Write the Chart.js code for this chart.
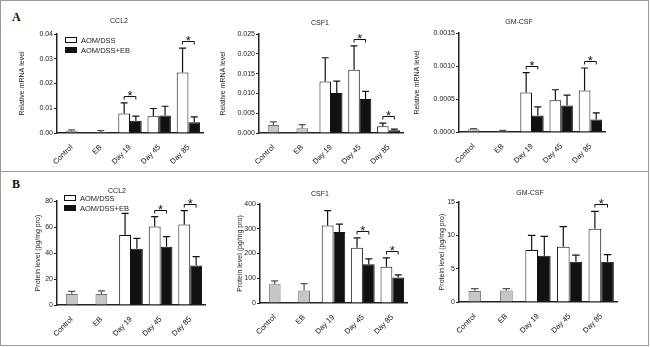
<!DOCTYPE html>
<html>
<head>
<meta charset="utf-8">
<script src="https://cdn.jsdelivr.net/npm/chart.js@4.4.0/dist/chart.umd.min.js"></script>
<style>
  body { margin: 0; background: #fff; font-family: "Liberation Sans", Arial, sans-serif; }
  #fig { position: relative; width: 650px; height: 347px; overflow: hidden; background: #fff; }
  .frame { position: absolute; left: 0; top: 0; width: 649px; height: 346px; box-sizing: border-box; border: 1px solid #9a9a9a; }
  .sep { position: absolute; left: 0; top: 171px; width: 649px; height: 1px; background: #9a9a9a; }
  .letter { position: absolute; font-family: "Liberation Serif", "DejaVu Serif", serif; font-weight: bold; font-size: 12px; color: #111; }
  .title { position: absolute; transform: translate(-50%, -50%); font-size: 7px; color: #222; white-space: nowrap; }
  .lbox { position: absolute; width: 12px; height: 6px; box-sizing: border-box; border: 1px solid #111; }
  .ltext { position: absolute; font-size: 7.5px; color: #222; white-space: nowrap; transform: translateY(-50%); }
  canvas { position: absolute; }
</style>
</head>
<body>
<div id="fig">
  <div class="frame"></div>
  <div class="sep"></div>
  <div class="letter" style="left:12px;top:10px;">A</div>
  <div class="letter" style="left:12px;top:177px;">B</div>
</div>
<script>
var categories = ["Control", "EB", "Day 19", "Day 45", "Day 85"];
var seriesNames = ["AOM/DSS", "AOM/DSS+EB"];

// A: relative mRNA level
var ccl2MrnaBase = [0.0008, 0.0004];
var ccl2MrnaBaseErr = [0.0005, 0.0006];
var ccl2MrnaAom = [0.0079, 0.0068, 0.0244];
var ccl2MrnaAomErr = [0.0043, 0.0031, 0.0099];
var ccl2MrnaEb = [0.0049, 0.0071, 0.0043];
var ccl2MrnaEbErr = [0.0019, 0.0037, 0.0022];
var ccl2MrnaSig = ["Day 19", "Day 85"];

var csf1MrnaBase = [0.0020, 0.0012];
var csf1MrnaBaseErr = [0.0008, 0.0009];
var csf1MrnaAom = [0.0130, 0.0160, 0.0017];
var csf1MrnaAomErr = [0.0060, 0.0060, 0.0008];
var csf1MrnaEb = [0.0101, 0.0086, 0.0007];
var csf1MrnaEbErr = [0.0030, 0.0019, 0.0003];
var csf1MrnaSig = ["Day 45", "Day 85"];

var gmcsfMrnaBase = [0.00004, 0.000015];
var gmcsfMrnaBaseErr = [0.00001, 0.00001];
var gmcsfMrnaAom = [0.00060, 0.00048, 0.00063];
var gmcsfMrnaAomErr = [0.00030, 0.00016, 0.00034];
var gmcsfMrnaEb = [0.00025, 0.00040, 0.00019];
var gmcsfMrnaEbErr = [0.00013, 0.00016, 0.00010];
var gmcsfMrnaSig = ["Day 19", "Day 85"];

// B: protein level (pg/mg pro)
var ccl2ProtBase = [8.5, 8.5];
var ccl2ProtBaseErr = [2.0, 2.3];
var ccl2ProtAom = [53.8, 60.3, 62.0];
var ccl2ProtAomErr = [16.7, 7.7, 10.6];
var ccl2ProtEb = [43.3, 44.9, 30.3];
var ccl2ProtEbErr = [8.0, 7.7, 6.9];
var ccl2ProtSig = ["Day 45", "Day 85"];

var csf1ProtBase = [75.7, 51];
var csf1ProtBaseErr = [13.5, 27];
var csf1ProtAom = [313.5, 223, 146];
var csf1ProtAomErr = [59.5, 40.5, 36.5];
var csf1ProtEb = [286.5, 156.8, 102.7];
var csf1ProtEbErr = [32.5, 21.6, 10.8];
var csf1ProtSig = ["Day 45", "Day 85"];

var gmcsfProtBase = [1.66, 1.71];
var gmcsfProtBaseErr = [0.35, 0.3];
var gmcsfProtAom = [7.8, 8.3, 11.0];
var gmcsfProtAomErr = [2.2, 3.0, 2.6];
var gmcsfProtEb = [6.95, 6.04, 6.04];
var gmcsfProtEbErr = [2.9, 1.0, 1.06];
var gmcsfProtSig = ["Day 85"];

var mrnaTitle = "Relative mRNA level";
var protTitle = "Protein level (pg/mg pro)";

var FONT = "'Liberation Sans', Arial, sans-serif";
Chart.defaults.font.family = FONT;
Chart.defaults.color = "#222";

var panels = [
  { title: "CCL2", yTitle: mrnaTitle, base: ccl2MrnaBase, baseErr: ccl2MrnaBaseErr, aom: ccl2MrnaAom, aomErr: ccl2MrnaAomErr, eb: ccl2MrnaEb, ebErr: ccl2MrnaEbErr, sig: ccl2MrnaSig,
    max: 0.04, step: 0.01, dec: 2, area: { l: 57, t: 34, r: 203, b: 133, yt: 22 }, head: { x: 119, y: 20 }, legend: { x: 65, y: 37 } },
  { title: "CSF1", yTitle: mrnaTitle, base: csf1MrnaBase, baseErr: csf1MrnaBaseErr, aom: csf1MrnaAom, aomErr: csf1MrnaAomErr, eb: csf1MrnaEb, ebErr: csf1MrnaEbErr, sig: csf1MrnaSig,
    max: 0.025, step: 0.005, dec: 3, area: { l: 259, t: 34, r: 403, b: 133, yt: 223 }, head: { x: 320, y: 22 } },
  { title: "GM-CSF", yTitle: mrnaTitle, base: gmcsfMrnaBase, baseErr: gmcsfMrnaBaseErr, aom: gmcsfMrnaAom, aomErr: gmcsfMrnaAomErr, eb: gmcsfMrnaEb, ebErr: gmcsfMrnaEbErr, sig: gmcsfMrnaSig,
    max: 0.0015, step: 0.0005, dec: 4, area: { l: 459, t: 33, r: 605, b: 132, yt: 417 }, head: { x: 519, y: 21 } },
  { title: "CCL2", yTitle: protTitle, base: ccl2ProtBase, baseErr: ccl2ProtBaseErr, aom: ccl2ProtAom, aomErr: ccl2ProtAomErr, eb: ccl2ProtEb, ebErr: ccl2ProtEbErr, sig: ccl2ProtSig,
    max: 80, step: 20, dec: 0, area: { l: 57, t: 201, r: 205, b: 305, yt: 38 }, head: { x: 117, y: 190 }, legend: { x: 64, y: 195 } },
  { title: "CSF1", yTitle: protTitle, base: csf1ProtBase, baseErr: csf1ProtBaseErr, aom: csf1ProtAom, aomErr: csf1ProtAomErr, eb: csf1ProtEb, ebErr: csf1ProtEbErr, sig: csf1ProtSig,
    max: 400, step: 100, dec: 0, area: { l: 260, t: 204, r: 407, b: 303, yt: 240 }, head: { x: 320, y: 193 } },
  { title: "GM-CSF", yTitle: protTitle, base: gmcsfProtBase, baseErr: gmcsfProtBaseErr, aom: gmcsfProtAom, aomErr: gmcsfProtAomErr, eb: gmcsfProtEb, ebErr: gmcsfProtEbErr, sig: gmcsfProtSig,
    max: 15, step: 5, dec: 0, area: { l: 459, t: 202, r: 617, b: 302, yt: 442 }, head: { x: 530, y: 192 } }
];

function spread(vals, offset) {
  var out = categories.map(function() { return null; });
  vals.forEach(function(v, i) { out[i + offset] = v; });
  return out;
}

// upper-only error bars with a cap
var errorBars = {
  id: "errorBars",
  afterDatasetsDraw: function(chart) {
    var ctx = chart.ctx, y = chart.scales.y;
    chart.data.datasets.forEach(function(ds, i) {
      var meta = chart.getDatasetMeta(i);
      meta.data.forEach(function(bar, j) {
        var v = ds.data[j], e = ds.errors[j];
        if (v == null || e == null) return;
        var top = y.getPixelForValue(v + e);
        var half = bar.width * 0.3;
        ctx.save();
        ctx.strokeStyle = ds.errColor;
        ctx.lineWidth = 1.2;
        ctx.beginPath();
        ctx.moveTo(bar.x, bar.y);
        ctx.lineTo(bar.x, top);
        ctx.moveTo(bar.x - half, top);
        ctx.lineTo(bar.x + half, top);
        ctx.stroke();
        ctx.restore();
      });
    });
  }
};

// significance brackets with a star
var sigMarks = {
  id: "sigMarks",
  afterDatasetsDraw: function(chart, args, opts) {
    var ctx = chart.ctx, y = chart.scales.y;
    var white = chart.getDatasetMeta(1), black = chart.getDatasetMeta(2);
    var dsW = chart.data.datasets[1], dsB = chart.data.datasets[2];
    (opts.labels || []).forEach(function(lab) {
      var j = categories.indexOf(lab);
      var topW = y.getPixelForValue(dsW.data[j] + dsW.errors[j]);
      var topB = y.getPixelForValue(dsB.data[j] + dsB.errors[j]);
      var ly = Math.round(Math.min(topW, topB) - 7) + 0.5;
      var x1 = white.data[j].x, x2 = black.data[j].x;
      ctx.save();
      ctx.strokeStyle = "#111";
      ctx.lineWidth = 1;
      ctx.beginPath();
      ctx.moveTo(x1, ly + 3);
      ctx.lineTo(x1, ly);
      ctx.lineTo(x2, ly);
      ctx.lineTo(x2, ly + 3);
      ctx.stroke();
      ctx.fillStyle = "#111";
      ctx.font = "13px " + FONT;
      ctx.textAlign = "center";
      ctx.textBaseline = "alphabetic";
      ctx.fillText("*", (x1 + x2) / 2, ly + 3);
      ctx.restore();
    });
  }
};

var fig = document.getElementById("fig");

function addDiv(cls, style, text) {
  var d = document.createElement("div");
  d.className = cls;
  d.setAttribute("style", style);
  if (text) d.textContent = text;
  fig.appendChild(d);
  return d;
}

panels.forEach(function(p) {
  var a = p.area;
  var padTop = 12, padRight = 4, xH = 32;
  var cl = Math.round(a.yt - 4.2);
  var ct = a.t - padTop;
  var yW = a.l - cl;
  var canvas = document.createElement("canvas");
  canvas.width = a.r - cl + padRight;
  canvas.height = a.b - ct + xH;
  canvas.style.left = cl + "px";
  canvas.style.top = ct + "px";
  fig.appendChild(canvas);

  addDiv("title", "left:" + p.head.x + "px;top:" + p.head.y + "px;", p.title);

  new Chart(canvas, {
    type: "bar",
    data: {
      labels: categories,
      datasets: [
        { label: "baseline", data: spread(p.base, 0), errors: spread(p.baseErr, 0), errColor: "#555",
          backgroundColor: "#c6c6c6", borderColor: "#707070", borderWidth: 1,
          grouped: false, categoryPercentage: 0.8, barPercentage: 0.5 },
        { label: seriesNames[0], data: spread(p.aom, 2), errors: spread(p.aomErr, 2), errColor: "#111",
          backgroundColor: "#ffffff", borderColor: "#111", borderWidth: 1,
          categoryPercentage: 0.8, barPercentage: 1.0 },
        { label: seriesNames[1], data: spread(p.eb, 2), errors: spread(p.ebErr, 2), errColor: "#111",
          backgroundColor: "#111111", borderColor: "#111", borderWidth: 1,
          categoryPercentage: 0.8, barPercentage: 1.0 }
      ]
    },
    options: {
      responsive: false,
      animation: false,
      layout: { padding: { top: padTop, right: padRight, left: 0, bottom: 0 } },
      plugins: {
        legend: { display: false },
        tooltip: { enabled: false },
        sigMarks: { labels: p.sig }
      },
      scales: {
        x: {
          grid: { display: false },
          border: { display: true, color: "#222", width: 1.5 },
          ticks: { color: "#111", font: { size: 7.5 }, minRotation: 45, maxRotation: 45, autoSkip: false, padding: 2 },
          afterFit: function(s) { s.height = xH; }
        },
        y: {
          min: 0,
          max: p.max,
          ticks: { stepSize: p.step, color: "#222", font: { size: 7 }, padding: 1,
            callback: function(v) { return Number(v).toFixed(p.dec); } },
          grid: { drawOnChartArea: false, drawTicks: true, tickLength: 3, color: "#222", lineWidth: 1 },
          border: { display: true, color: "#222", width: 1.5 },
          title: { display: true, text: p.yTitle, color: "#222", font: { size: 7 }, padding: 0 },
          afterFit: function(s) { s.width = yW; }
        }
      }
    },
    plugins: [errorBars, sigMarks]
  });

  if (p.legend) {
    var lx = p.legend.x, ly = p.legend.y;
    addDiv("lbox", "left:" + lx + "px;top:" + ly + "px;background:#fff;");
    addDiv("ltext", "left:" + (lx + 16) + "px;top:" + (ly + 3) + "px;", seriesNames[0]);
    addDiv("lbox", "left:" + lx + "px;top:" + (ly + 10) + "px;background:#111;");
    addDiv("ltext", "left:" + (lx + 16) + "px;top:" + (ly + 13) + "px;", seriesNames[1]);
  }
});
</script>
</body>
</html>
